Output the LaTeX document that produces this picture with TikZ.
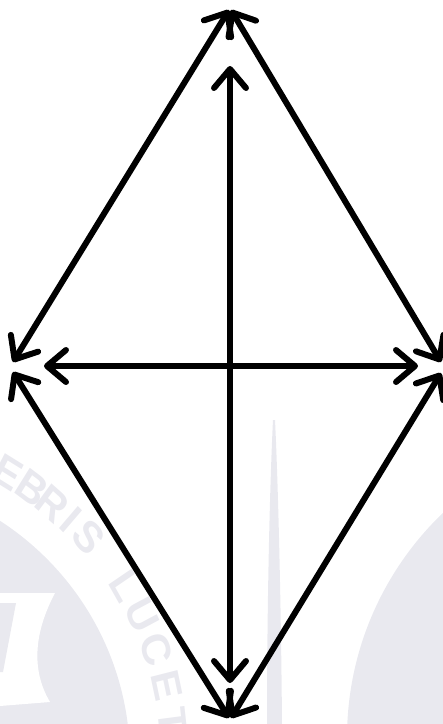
\documentclass[tikz,border=0pt]{standalone}
\usepackage{fontspec}
\newfontfamily\wmfont{Liberation Sans}
\usetikzlibrary{arrows.meta}
\definecolor{wm}{RGB}{233,233,239}
\begin{document}
\begin{tikzpicture}[x=1pt,y=-1pt,
  link/.style={line width=6pt, line cap=round, {Straight Barb[length=19pt,width=32pt,round]}-{Straight Barb[length=19pt,width=32pt,round]}},
  wmletter/.style={text=wm, font=\wmfont\bfseries\fontsize{40}{40}\selectfont, inner sep=0pt, yscale=1.1}]
\useasboundingbox (0,0) rectangle (443,724);
% faint background seal (watermark)
\begin{scope}
  \clip (0,0) rectangle (443,724);
  \fill[wm] (659,738) circle[radius=312pt];
  \fill[wm] (-155,760) circle[radius=285pt];
  \fill[white] (0,593) -- (55,593) .. controls (38,625) and (28,665) .. (50,702) -- (0,706) -- cycle;
  \fill[wm] (0,603) -- (16,603) -- (3,672) -- (0,672) -- cycle;
  \fill[wm] (273,420) .. controls (270,480) and (267,600) .. (267,724) -- (282,724) .. controls (281,600) and (278,480) .. (275,420) -- cycle;
  \foreach \ch/\a [count=\i] in {E/60.5,B/55.5,R/51,I/46.8,S/42.5,L/31.8,U/26,C/19.5,E/13,T/6.8}
    \node[wmletter, rotate=\a-90] (w\i) at ({-155+330*cos(\a)},{760-330*sin(\a)}) {\ch};
\end{scope}
% vertices of the diamond
\coordinate (T1) at (229,10);
\coordinate (T2) at (231,10);
\coordinate (L1) at (13,362);
\coordinate (L2) at (13,372);
\coordinate (R1) at (441,362);
\coordinate (R2) at (441,373);
\coordinate (B1) at (229,718);
\coordinate (B2) at (231,718);
% inner axis ends
\coordinate (VT) at (230,66);
\coordinate (VB) at (230,683);
\coordinate (HL) at (44,366);
\coordinate (HR) at (418,366);
% sides
\draw[link] (T1) -- (L1);
\draw[link] (T2) -- (R1);
\draw[link] (L2) -- (B1);
\draw[link] (R2) -- (B2);
% axes
\draw[link] (VT) -- (VB);
\draw[link] (HL) -- (HR);
\end{tikzpicture}
\end{document}
